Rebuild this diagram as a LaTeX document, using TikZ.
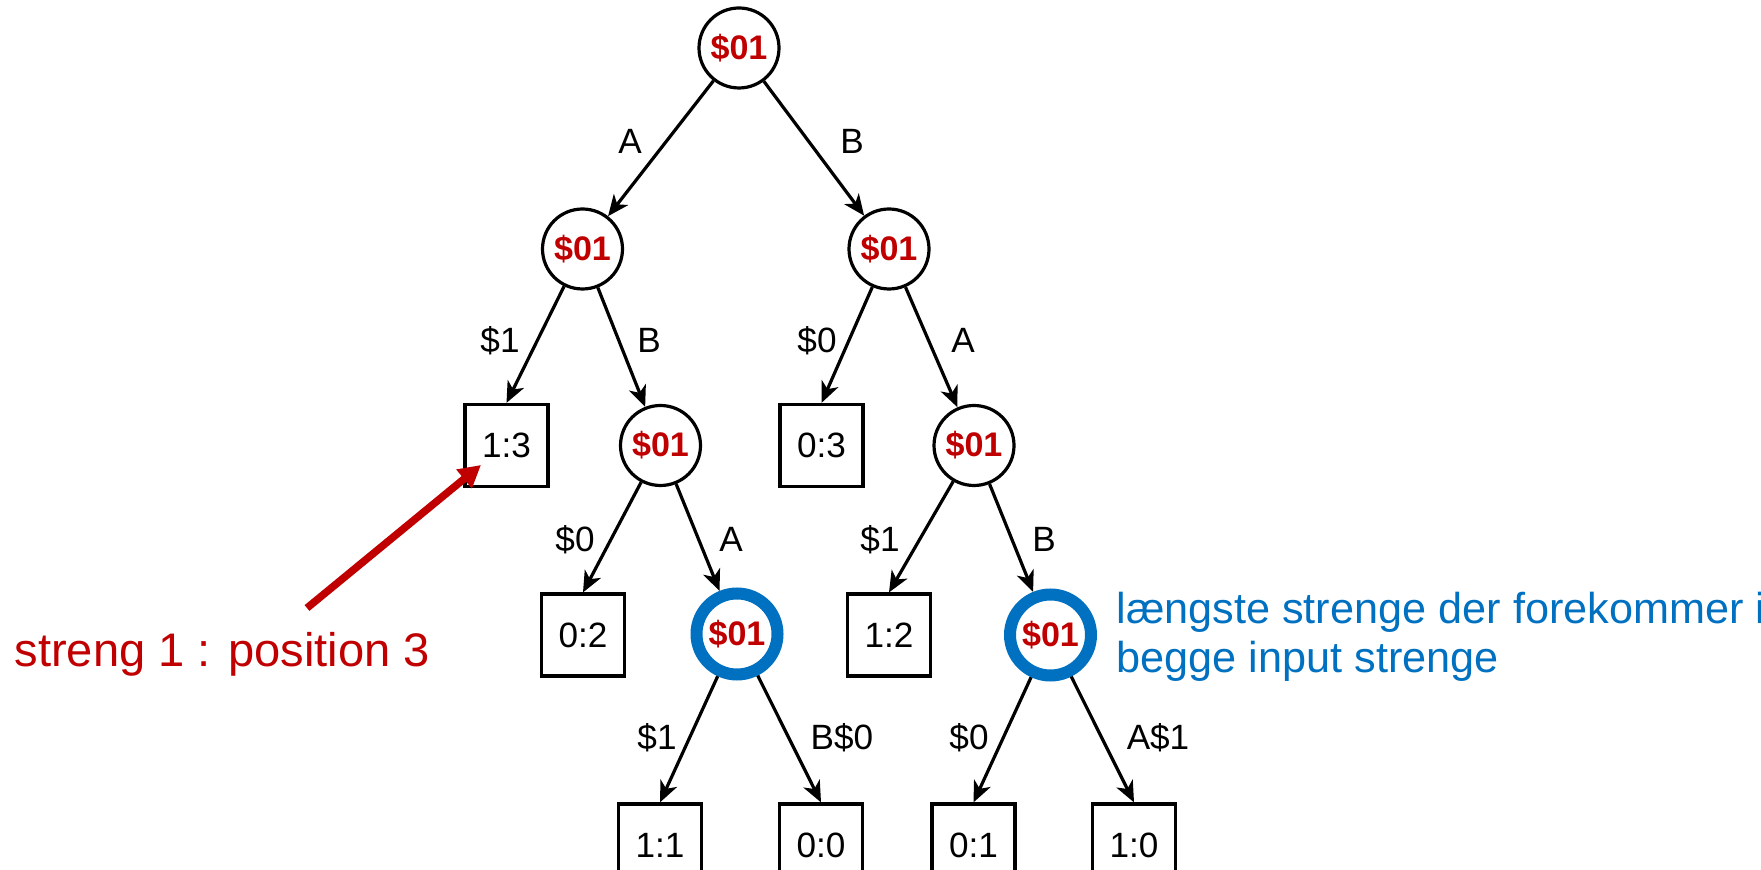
\documentclass[tikz,border=0pt]{standalone}
\usepackage{fontspec}
\setmainfont{Liberation Sans}
\usetikzlibrary{arrows.meta}
\definecolor{strred}{RGB}{192,0,0}
\definecolor{strblue}{RGB}{0,112,192}

\begin{document}
\begin{tikzpicture}[
    line width = 0.032cm,
    >={Stealth[length = 0.21cm, width = 0.18cm, inset = 0.06cm]},
    inner/.style = {shape = circle, draw = black, minimum size = 0.8cm, inner sep = 0pt,
                    text = strred, font = \fontsize{9.7}{11}\selectfont\bfseries},
    best/.style  = {inner, draw = strblue, line width = 0.12cm, minimum size = 0.81cm},
    leaf/.style  = {shape = rectangle, draw = black, minimum width = 0.83cm,
                    minimum height = 0.82cm, inner sep = 0pt, font = \fontsize{10}{12}\selectfont},
    lbl/.style   = {anchor = base, inner sep = 0pt, font = \fontsize{10}{12}\selectfont}
  ]
  \useasboundingbox (0, 0) rectangle (17.61, -8.70);

  % ------------------------------------------------------------------------
  % Tree
  \node[inner] at ( 7.390, -0.480) (r) {\$01};

  \node[inner] at ( 5.825, -2.490) (a) {\$01};
  \node[inner] at ( 8.890, -2.490) (b) {\$01};

  \node[leaf]  at ( 5.065, -4.455) (l13) {1:3};
  \node[inner] at ( 6.605, -4.455) (ab) {\$01};
  \node[leaf]  at ( 8.215, -4.455) (l03) {0:3};
  \node[inner] at ( 9.740, -4.455) (ba) {\$01};

  \node[leaf]  at ( 5.830, -6.350) (l02) {0:2};
  \node[best]  at ( 7.370, -6.340) (aba) {\$01};
  \node[leaf]  at ( 8.890, -6.350) (l12) {1:2};
  \node[best]  at (10.505, -6.350) (bab) {\$01};

  \node[leaf]  at ( 6.600, -8.450) (l11) {1:1};
  \node[leaf]  at ( 8.210, -8.450) (l00) {0:0};
  \node[leaf]  at ( 9.735, -8.450) (l01) {0:1};
  \node[leaf]  at (11.340, -8.450) (l10) {1:0};

  \draw[->]
    (r) edge (a)
    (r) edge (b)
    (a) edge (l13.north)
    (a) edge (ab)
    (b) edge (l03.north)
    (b) edge (ba)
    (ab) edge (l02.north)
    (ab) edge (aba)
    (ba) edge (l12.north)
    (ba) edge (bab)
    (aba) edge (l11.north)
    (aba) edge (l00.north)
    (bab) edge (l01.north)
    (bab) edge (l10.north)
  ;

  % ------------------------------------------------------------------------
  % Edge labels
  \node[lbl] at ( 6.30, -1.54) (eA) {A};
  \node[lbl] at ( 8.52, -1.54) (eB) {B};

  \node[lbl] at ( 5.00, -3.53) (eA1) {\$1};
  \node[lbl] at ( 6.49, -3.53) (eAB) {B};
  \node[lbl] at ( 8.17, -3.53) (eB0) {\$0};
  \node[lbl] at ( 9.63, -3.53) (eBA) {A};

  \node[lbl] at ( 5.75, -5.52) (eAB0) {\$0};
  \node[lbl] at ( 7.31, -5.52) (eABA) {A};
  \node[lbl] at ( 8.80, -5.52) (eBA1) {\$1};
  \node[lbl] at (10.44, -5.52) (eBAB) {B};

  \node[lbl] at ( 6.57, -7.50) (eABA1) {\$1};
  \node[lbl] at ( 8.42, -7.50) (eABAB) {B\$0};
  \node[lbl] at ( 9.69, -7.50) (eBAB0) {\$0};
  \node[lbl] at (11.58, -7.50) (eBABA) {A\$1};

  % ------------------------------------------------------------------------
  % Notes
  \node[anchor = base west, inner sep = 0pt, text = strred,
        font = \fontsize{13.4}{16}\selectfont] at (0.13, -6.67) (pos) {streng 1 : position 3};
  \coordinate (tail) at (3.07, -6.08);
  \coordinate (tip)  at (4.81, -4.65);
  \draw[-{Triangle[length = 0.22cm, width = 0.23cm]}, draw = strred, line width = 0.075cm]
    (tail) -- (tip);

  \node[anchor = base west, align = left, inner sep = 0pt, text = strblue,
        font = \fontsize{12.3}{14.2}\selectfont] at (11.15, -6.73) (note)
    {længste strenge der forekommer i\\begge input strenge};
\end{tikzpicture}
\end{document}
